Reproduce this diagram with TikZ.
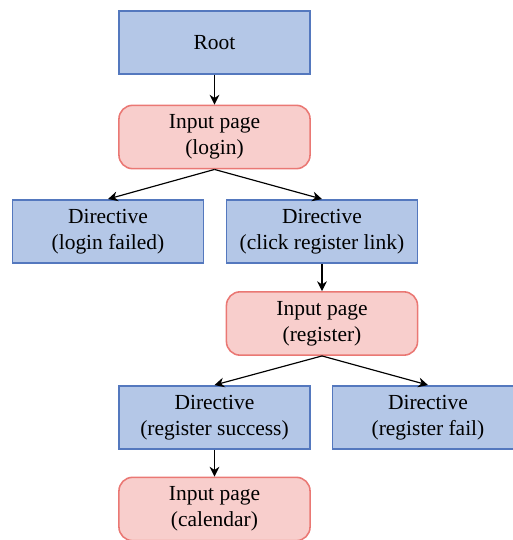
\documentclass[tikz,border=0pt]{standalone}
\usepackage{fontspec}
\setmainfont{Liberation Serif}
\usetikzlibrary{arrows.meta}

\definecolor{azulfondo}{RGB}{180,199,231}
\definecolor{azulborde}{RGB}{84,120,190}
\definecolor{rosafondo}{RGB}{248,206,204}
\definecolor{rosaborde}{RGB}{234,120,116}

\begin{document}
\begin{tikzpicture}[
    x=0.9cm,
    y=0.9cm,
    >={Stealth[length=5pt,width=5pt]},
    font=\fontsize{11}{13.5}\selectfont,
    directive/.style={draw=azulborde,fill=azulfondo,thick,align=center,
        minimum width=3.44cm,minimum height=1.14cm,inner sep=1pt},
    inputpage/.style={draw=rosaborde,fill=rosafondo,thick,rounded corners=7pt,
        align=center,minimum width=3.44cm,minimum height=1.14cm,inner sep=1pt},
    link/.style={semithick,->}
]
    \useasboundingbox (0,0) rectangle (10.26,10.8);

    % Login
    \node[directive] (root) at (4.29,9.95) {Root};
    \node[inputpage] (login) at (4.29,8.06) {Input page\\(login)};
    \node[directive] (failed) at (2.16,6.17) {Directive\\(login failed)};
    \node[directive] (click) at (6.44,6.17) {Directive\\(click register link)};

    % Register
    \node[inputpage] (register) at (6.44,4.33) {Input page\\(register)};
    \node[directive] (success) at (4.29,2.45) {Directive\\(register success)};
    \node[directive] (fail) at (8.56,2.45) {Directive\\(register fail)};
    \node[inputpage] (calendar) at (4.29,0.62) {Input page\\(calendar)};

    \draw[link] (root) -- (login);
    \draw[link] (login.south) -- (failed.north);
    \draw[link] (login.south) -- (click.north);
    \draw[link] (click) -- (register);
    \draw[link] (register.south) -- (success.north);
    \draw[link] (register.south) -- (fail.north);
    \draw[link] (success) -- (calendar);
\end{tikzpicture}
\end{document}
